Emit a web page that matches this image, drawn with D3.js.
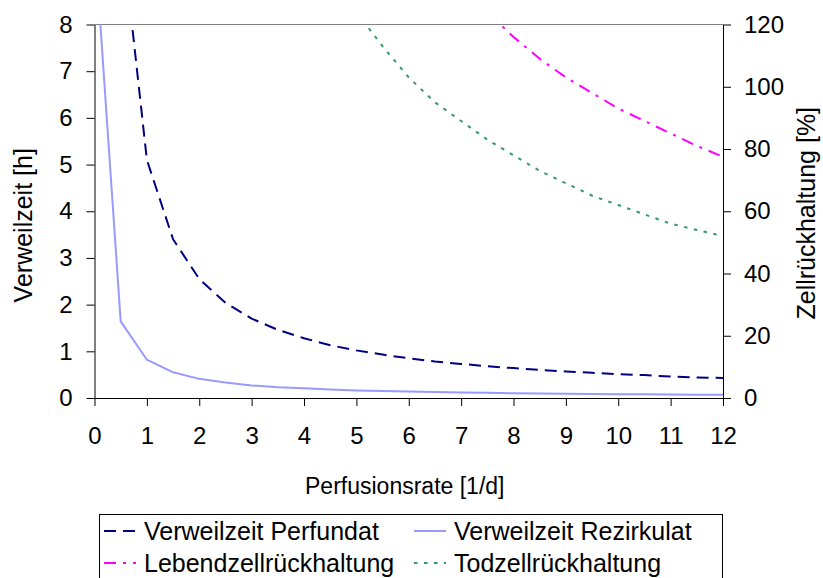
<!DOCTYPE html>
<html>
<head>
<meta charset="utf-8">
<script src="https://cdn.jsdelivr.net/npm/d3@7"></script>
<style>
  html, body { margin: 0; padding: 0; background: #fff; }
  svg { display: block; font-family: "Liberation Sans", Arial, sans-serif; }
</style>
</head>
<body>
<svg id="chart" width="823" height="578"></svg>
<script>
// Perfusion rate [1/d]
const rates = [0.1, 0.5, 1, 1.5, 2, 2.5, 3, 3.5, 4, 4.5, 5, 5.5, 6, 6.5, 7, 7.5, 8, 8.5, 9, 9.5, 10, 10.5, 11, 11.5, 12];
// Residence times [h] (left axis)
const verweilPerfundat = [51, 10.2, 5.1, 3.4, 2.55, 2.04, 1.7, 1.46, 1.28, 1.13, 1.02, 0.93, 0.85, 0.78, 0.73, 0.68, 0.64, 0.6, 0.57, 0.54, 0.51, 0.49, 0.46, 0.44, 0.43];
const verweilRezirkulat = [8.2, 1.64, 0.82, 0.55, 0.41, 0.33, 0.27, 0.23, 0.21, 0.18, 0.16, 0.15, 0.14, 0.13, 0.12, 0.11, 0.1, 0.096, 0.091, 0.086, 0.082, 0.078, 0.075, 0.071, 0.068];
// Cell retention [%] (right axis)
const lebendzell = [9300, 1860, 930, 620, 465, 372, 310, 266, 233, 207, 186, 169, 155, 143, 133, 124, 116, 109, 103, 98, 93, 89, 85, 81, 77.5];
const todzell = [6200, 1240, 620, 413, 310, 248, 207, 177, 155, 138, 124, 113, 103, 95, 89, 83, 78, 73, 69, 65, 62, 59, 56, 54, 52];

const xTicks = [0, 1, 2, 3, 4, 5, 6, 7, 8, 9, 10, 11, 12];
const yLeftTicks = [0, 1, 2, 3, 4, 5, 6, 7, 8];
const yRightTicks = [0, 20, 40, 60, 80, 100, 120];

const xTitle = "Perfusionsrate [1/d]";
const yLeftTitle = "Verweilzeit [h]";
const yRightTitle = "Zellrückhaltung [%]";

const svg = d3.select("#chart");
const plot = { left: 94.5, right: 723, top: 24.5, bottom: 398 };
const tickFont = 24;

const x = d3.scaleLinear().domain([0, 12]).range([plot.left, plot.right]);
const yL = d3.scaleLinear().domain([0, 8]).range([plot.bottom, plot.top]);
const yR = d3.scaleLinear().domain([0, 120]).range([plot.bottom, plot.top]);

svg.append("defs").append("clipPath").attr("id", "plotClip")
  .append("rect")
  .attr("x", plot.left).attr("y", plot.top)
  .attr("width", plot.right - plot.left).attr("height", plot.bottom - plot.top);

// frame top edge
svg.append("line")
  .attr("x1", plot.left).attr("x2", plot.right)
  .attr("y1", plot.top).attr("y2", plot.top)
  .attr("stroke", "#808080").attr("stroke-width", 1);

function styleAxis(g) {
  g.selectAll("path.domain").attr("stroke", "#000").attr("stroke-width", 1);
  g.selectAll(".tick line").attr("stroke", "#000").attr("stroke-width", 1);
  g.selectAll(".tick text")
    .attr("fill", "#000")
    .style("font-family", "'Liberation Sans', Arial, sans-serif")
    .style("font-size", tickFont + "px");
}

const gx = svg.append("g")
  .attr("transform", `translate(0,${plot.bottom})`)
  .call(d3.axisBottom(x).tickValues(xTicks).tickFormat(d3.format("d"))
    .tickSize(8).tickSizeOuter(0).tickPadding(21));
styleAxis(gx);

const gl = svg.append("g")
  .attr("transform", `translate(${plot.left},0)`)
  .call(d3.axisLeft(yL).tickValues(yLeftTicks).tickFormat(d3.format("d"))
    .tickSize(8).tickSizeOuter(0).tickPadding(14));
styleAxis(gl);

const gr = svg.append("g")
  .attr("transform", `translate(${plot.right},0)`)
  .call(d3.axisRight(yR).tickValues(yRightTicks).tickFormat(d3.format("d"))
    .tickSize(8).tickSizeOuter(0).tickPadding(13));
styleAxis(gr);

// axis titles
svg.append("text")
  .attr("x", (plot.left + plot.right) / 2 - 4).attr("y", 494)
  .attr("text-anchor", "middle")
  .style("font-size", "23px")
  .text(xTitle);

svg.append("text")
  .attr("transform", `translate(32,${(plot.top + plot.bottom) / 2 + 14}) rotate(-90)`)
  .attr("text-anchor", "middle")
  .style("font-size", "25px")
  .text(yLeftTitle);

svg.append("text")
  .attr("transform", `translate(815,${(plot.top + plot.bottom) / 2 + 2}) rotate(-90)`)
  .attr("text-anchor", "middle")
  .style("font-size", "25px")
  .text(yRightTitle);

// series
const series = [
  { name: "Verweilzeit Perfundat", values: verweilPerfundat, scale: yL, color: "#000080", dash: "12,7", width: 2 },
  { name: "Verweilzeit Rezirkulat", values: verweilRezirkulat, scale: yL, color: "#9999FF", dash: null, width: 2 },
  { name: "Lebendzellrückhaltung", values: lebendzell, scale: yR, color: "#FF00FF", dash: "12,7,3,7", width: 2 },
  { name: "Todzellrückhaltung", values: todzell, scale: yR, color: "#339966", dash: "3.5,6.5", width: 2 }
];

const lines = svg.append("g").attr("clip-path", "url(#plotClip)");
series.forEach(s => {
  const line = d3.line()
    .x((d, i) => x(rates[i]))
    .y(d => s.scale(d));
  lines.append("path")
    .datum(s.values)
    .attr("d", line)
    .attr("fill", "none")
    .attr("stroke", s.color)
    .attr("stroke-width", s.width)
    .attr("stroke-dasharray", s.dash)
    .attr("stroke-linejoin", "round");
});

// legend
const legend = svg.append("g");
legend.append("rect")
  .attr("x", 99.5).attr("y", 514.5)
  .attr("width", 623).attr("height", 80)
  .attr("fill", "#fff").attr("stroke", "#000").attr("stroke-width", 1);

const legendLayout = [
  { s: series[0], col: 0, row: 0 },
  { s: series[1], col: 1, row: 0 },
  { s: series[2], col: 0, row: 1 },
  { s: series[3], col: 1, row: 1 }
];
const colX = [104, 414];
const rowY = [531, 563];
legendLayout.forEach(e => {
  const g = legend.append("g").attr("transform", `translate(${colX[e.col]},${rowY[e.row]})`);
  g.append("line")
    .attr("x1", 0).attr("x2", 32).attr("y1", 0).attr("y2", 0)
    .attr("stroke", e.s.color).attr("stroke-width", e.s.width)
    .attr("stroke-dasharray", e.s.dash);
  g.append("text")
    .attr("x", 40).attr("y", 9)
    .style("font-size", "25px")
    .text(e.s.name);
});
</script>
</body>
</html>
